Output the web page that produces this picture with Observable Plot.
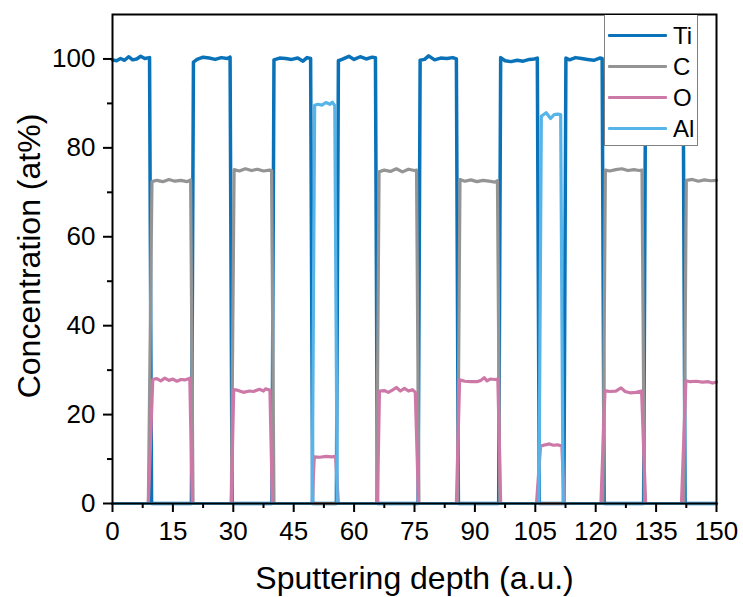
<!DOCTYPE html>
<html>
<head>
<meta charset="utf-8">
<script src="https://cdn.jsdelivr.net/npm/d3@7"></script>
<script src="https://cdn.jsdelivr.net/npm/@observablehq/plot@0.6"></script>
<style>
  html, body { margin: 0; padding: 0; background: #fff; }
  #wrap { position: relative; width: 743px; height: 597px; font-family: "Liberation Sans", Arial, sans-serif; }
  #legend { position: absolute; left: 604px; top: 15px; width: 92px; height: 130px; background: #fff;
            border: 1px solid #808080; border-top: none; }
  .row { position: absolute; left: 0; height: 30px; }
  .swatch { position: absolute; left: 3px; width: 59px; height: 3px; border-radius: 1px; }
  .lab { position: absolute; left: 68px; font-size: 24px; line-height: 24px; color: #000; }
</style>
</head>
<body>
<div id="wrap"></div>
<script>
// ---- data ----
const elements = ["Ti", "C", "O", "Al"];

const tiDepth = [0,1,2,3,4,5,6,7,8,9.2,9.7,
  19.6,20.1,21,22.5,24,25.5,27,28.5,29.2,29.7,
  39.6,40.1,41.5,43,44.5,46,47.3,48.3,49.2,49.7,
  55.6,56.1,57,58.7,60,61.5,63,64.5,65.3,65.8,
  75.9,76.4,77.5,78.5,80,81.5,83,84.5,85.4,85.9,
  95.9,96.4,97.5,99,100.5,102,103.5,104.8,105.5,106,
  112.1,112.6,113.5,115,116.5,118,119.5,121,121.6,122.1,
  131.9,132.4,134,136,138,140,141.7,142.2,150];
const tiConc = [99.8,99.6,100.1,99.7,100.5,99.8,100.0,100.6,100.1,100.3,0,
  0,99.3,99.9,100.4,100.2,99.9,100.3,100.1,100.4,0,
  0,99.8,100.2,100.1,99.9,100.2,99.5,100.3,100.1,0,
  0,99.6,99.9,100.6,99.9,100.5,100.0,100.4,100.3,0,
  0,99.7,99.9,100.7,99.8,100.2,100.1,100.3,100.0,0,
  0,100.3,99.6,99.4,99.7,99.5,99.9,100.0,100.2,0,
  0,100.2,99.8,100.3,100.1,99.9,99.7,100.2,100.1,0,
  0,99.8,100.3,100.0,99.7,100.2,100.1,0,0];

const cDepth = [0,8.9,9.8,11,12.5,14,15.5,17,18.5,19.4,20.0,
  29.5,30.2,31.5,33,34.5,36,37.5,39,39.5,40.1,
  65.6,66.2,67.5,69,70.5,72,73.5,75,75.5,76.1,
  85.7,86.3,87.5,89,90.5,92,93.5,95,95.6,96.2,
  121.8,122.4,123.5,125,126.5,128,129.5,130.8,131.5,132.1,
  141.9,142.5,144,145.5,147,148.5,150];
const cConc = [0,0,72.4,72.7,72.4,72.9,72.5,72.7,72.4,72.8,0,
  0,75.1,74.8,75.3,74.9,75.2,74.8,75.0,74.9,0,
  0,74.6,75.0,74.7,75.3,74.6,75.2,74.9,75.0,0,
  0,72.9,72.5,72.8,72.4,72.7,72.5,72.3,72.6,0,
  0,75.0,74.8,75.1,75.3,74.9,75.1,74.9,75.0,0,
  0,72.7,72.9,72.5,72.8,72.6,72.7];

const oDepth = [0,8.9,10.0,11,12,13,14,15,16,17,18,19.2,19.8,
  29.5,30.1,31,32.5,34,35,36.5,37.5,38,39.1,39.7,
  49.6,50.1,51.5,53,54.5,55.4,56.1,
  65.8,66.3,67.5,68.5,69.5,70.5,71.5,72.5,73.5,74.5,75.2,76.0,
  85.4,86.2,87.5,89,90.5,91.5,92.3,93,93.8,95,95.7,96.4,
  105.3,106.3,107.5,108.5,109.5,110.5,111.6,112.2,
  121.3,122.3,123.5,125,126.3,127.3,128.5,130,131.4,132.4,
  141.3,142.4,143.5,145,146.5,148,149,150];
const oConc = [0,0,27.9,28.1,27.6,28.2,27.7,28.0,27.5,27.9,27.8,28.2,0,
  0,25.6,25.5,25.0,25.3,25.2,25.7,25.3,25.8,25.5,0,
  0,10.5,10.4,10.6,10.5,10.6,0,
  0,25.3,25.4,25.0,25.5,26.1,25.3,25.9,25.3,25.6,25.0,0,
  0,27.8,27.5,27.4,27.4,27.7,28.3,27.6,28.0,27.9,28.0,0,
  0,12.9,13.2,13.4,13.1,13.2,12.9,0,
  0,25.4,25.2,25.3,26.0,25.2,24.9,25.0,25.3,0,
  0,27.6,27.4,27.5,27.3,27.4,27.1,27.3];

const alDepth = [0,49.6,50.2,51,52,53,54,54.6,55.2,55.8,
  105.9,106.5,107.7,108.8,109.7,110.5,111.3,111.9,150];
const alConc = [0,0,89.6,89.8,89.6,90.2,89.8,90.3,89.5,0,
  0,87.1,87.9,86.6,87.5,87.6,87.5,0,0];

const xMajor = [0,15,30,45,60,75,90,105,120,135,150];
const xMinor = [7.5,22.5,37.5,52.5,67.5,82.5,97.5,112.5,127.5,142.5];
const yMajor = [0,20,40,60,80,100];
const yMinor = [10,30,50,70,90];

// ---- styles ----
const colors = {Ti: "#0a72b8", C: "#949494", O: "#cc79a7", Al: "#56b4e9"};
const widths = {Ti: 3.5, C: 3.2, O: 3.2, Al: 3.2};

const series = {
  Ti: tiDepth.map((d, i) => ({depth: d, conc: tiConc[i]})),
  C: cDepth.map((d, i) => ({depth: d, conc: cConc[i]})),
  O: oDepth.map((d, i) => ({depth: d, conc: oConc[i]})),
  Al: alDepth.map((d, i) => ({depth: d, conc: alConc[i]}))
};

const chart = Plot.plot({
  width: 743,
  height: 597,
  marginLeft: 112,
  marginRight: 27,
  marginTop: 14,
  marginBottom: 94,
  style: {fontFamily: "'Liberation Sans', Arial, sans-serif", fontSize: "26px", color: "#000", background: "#fff"},
  x: {domain: [0, 150]},
  y: {domain: [0, 110]},
  marks: [
    ...elements.map(el => Plot.line(series[el], {x: "depth", y: "conc", stroke: colors[el], strokeWidth: widths[el], strokeLinejoin: "round"})),
    Plot.frame({stroke: "#000", strokeWidth: 2}),
    Plot.axisX({ticks: xMajor, tickSize: 9, tickPadding: 9, strokeWidth: 2, tickFormat: d => d, label: null, fontSize: 26}),
    Plot.axisX({ticks: xMinor, tickSize: 5, strokeWidth: 2, tickFormat: () => "", label: null}),
    Plot.axisY({ticks: yMajor, tickSize: 9, tickPadding: 8, strokeWidth: 2, tickFormat: d => d, label: null, fontSize: 26}),
    Plot.axisY({ticks: yMinor, tickSize: 5, strokeWidth: 2, tickFormat: () => "", label: null}),
    Plot.text(["Sputtering depth (a.u.)"], {frameAnchor: "bottom", textAnchor: "middle", lineAnchor: "bottom", dy: 85, fontSize: 32, fill: "#000"}),
    Plot.text(["Concentration (at%)"], {frameAnchor: "left", textAnchor: "middle", lineAnchor: "bottom", rotate: -90, dx: -73, dy: -3, fontSize: 32, fill: "#000"})
  ]
});

const wrap = document.getElementById("wrap");
wrap.appendChild(chart);

// legend
const legend = document.createElement("div");
legend.id = "legend";
elements.forEach((el, i) => {
  const row = document.createElement("div");
  row.className = "row";
  row.style.top = (5 + i * 31) + "px";
  const sw = document.createElement("div");
  sw.className = "swatch";
  sw.style.background = colors[el];
  sw.style.top = "14px";
  const lab = document.createElement("div");
  lab.className = "lab";
  lab.style.top = "4px";
  lab.textContent = el;
  row.appendChild(sw);
  row.appendChild(lab);
  legend.appendChild(row);
});
wrap.appendChild(legend);
</script>
</body>
</html>
